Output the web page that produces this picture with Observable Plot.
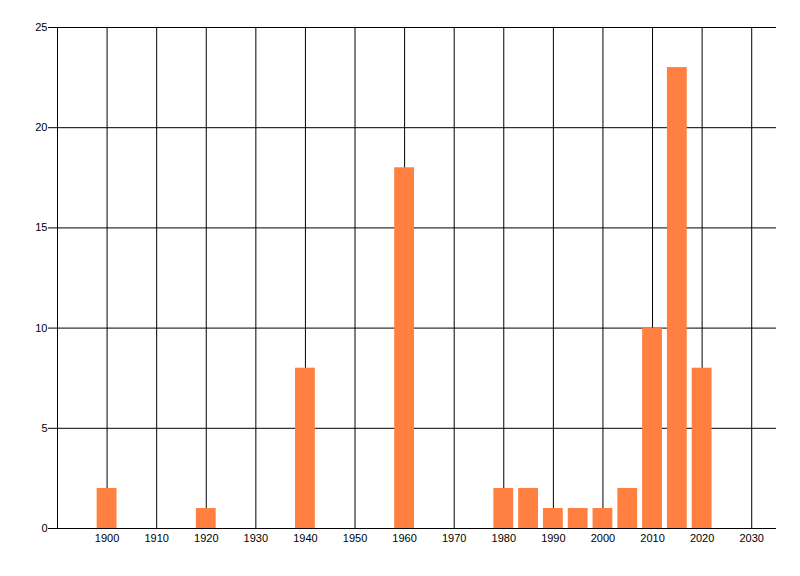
<!DOCTYPE html>
<html>
<head>
<meta charset="utf-8">
<script src="https://cdn.jsdelivr.net/npm/d3@7"></script>
<script src="https://cdn.jsdelivr.net/npm/@observablehq/plot@0.6"></script>
<style>
  html, body { margin: 0; padding: 0; background: #fff; }
  #chart svg { display: block; }
</style>
</head>
<body>
<div id="chart"></div>
<script>
const years = [1900, 1920, 1940, 1960, 1980, 1985, 1990, 1995, 2000, 2005, 2010, 2015, 2020];
const counts = [2, 1, 8, 18, 2, 2, 1, 1, 1, 2, 10, 23, 8];
const xTicks = [1900, 1910, 1920, 1930, 1940, 1950, 1960, 1970, 1980, 1990, 2000, 2010, 2020, 2030];
const yTicks = [0, 5, 10, 15, 20, 25];
const barColor = "#FF8040";

const data = years.map((y, i) => ({year: y, count: counts[i]}));

const chart = Plot.plot({
  width: 800,
  height: 576,
  marginLeft: 57,
  marginRight: 24,
  marginTop: 27,
  marginBottom: 48,
  style: {fontFamily: "'Liberation Sans', Arial, sans-serif", fontSize: "11px", color: "#000", background: "#fff"},
  x: {domain: [1890, 2035]},
  y: {domain: [0, 25]},
  marks: [
    Plot.ruleX(xTicks, {x: d => d, y1: 0, y2: 25, stroke: "#000", strokeWidth: 1}),
    Plot.ruleX([1890], {x: d => d, y1: 0, y2: 25, stroke: "#000", strokeWidth: 1}),
    Plot.ruleY(yTicks, {y: d => d, stroke: "#000", strokeWidth: 1}),
    Plot.rectY(data, {x1: d => d.year - 2, x2: d => d.year + 2, y: "count", fill: barColor, inset: 0}),
    Plot.axisY({ticks: yTicks, tickSize: 9, tickPadding: 1, label: null, tickFormat: d => String(d), stroke: "#000"}),
    Plot.axisX({ticks: xTicks, tickSize: 0, tickPadding: 6, label: null, tickFormat: d => String(d)})
  ]
});
document.getElementById("chart").appendChild(chart);
</script>
</body>
</html>
